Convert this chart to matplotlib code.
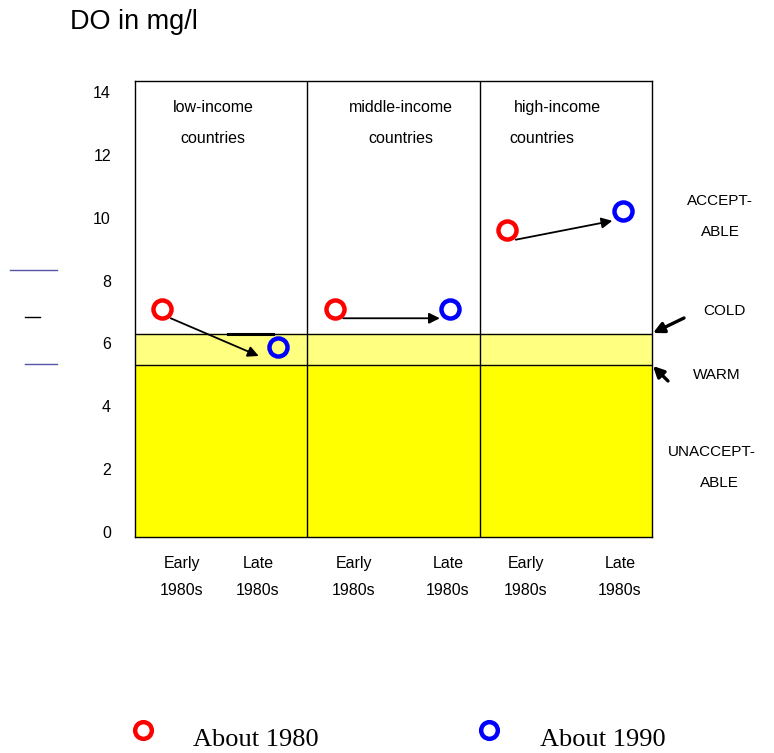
import numpy as np
import matplotlib.pyplot as plt
from matplotlib.lines import Line2D
from matplotlib.patches import FancyArrowPatch

# data
groups = ['low-income', 'middle-income', 'high-income']
do_1980 = [7.1, 7.1, 9.6]
do_1990 = [5.9, 7.1, 10.2]
period_labels = ['Early\n1980s', 'Late\n1980s']
warm_limit = 5.3
cold_limit = 6.3

plt.rcParams['font.family'] = ['Liberation Sans', 'DejaVu Sans']

fig = plt.figure(figsize=(7.74, 7.53), dpi=100)
W, H = 774, 753
ax = fig.add_axes([134.5 / W, 1 - 537 / H, (652 - 134.5) / W, (537 - 81) / H])

ax.set_xlim(0, 3)
ax.set_ylim(-0.16, 14.35)

# background bands
ax.axhspan(-0.16, warm_limit, color='#ffff00', zorder=0)
ax.axhspan(warm_limit, cold_limit, color='#ffff80', zorder=0)
ax.axhline(warm_limit, color='k', lw=1)
ax.axhline(cold_limit, color='k', lw=1)
for xd in [1, 2]:
    ax.axvline(xd, color='k', lw=1)
for s in ax.spines.values():
    s.set_linewidth(1)
    s.set_color('k')

# positions inside each panel
x_early = np.arange(3) + 0.16
x_late = np.arange(3) + 0.83

# arrows (drawn slightly below the points, like the original)
for i in range(3):
    xs, ys = x_early[i] + 0.05, do_1980[i] - 0.3
    xe, ye = x_late[i] - 0.06, do_1990[i] - 0.3
    if i == 0:
        xe -= 0.05
    ax.annotate('', xy=(xe, ye), xytext=(xs, ys),
                arrowprops=dict(arrowstyle='-|>', color='k', lw=1.3,
                                mutation_scale=16, shrinkA=0, shrinkB=0))

# small black dash at top of band in low-income panel
ax.plot([0.54, 0.80], [cold_limit, cold_limit], color='k', lw=2.2)

ax.plot(x_early, do_1980, 'o', mfc='none', mec='red', ms=13, mew=3.2, zorder=5)
ax.plot(x_late, do_1990, 'o', mfc='none', mec='blue', ms=13, mew=3.2, zorder=5)

# panel titles
title_x = [(213, 213), (401, 401), (557, 542)]
for g, (x1, x2) in zip(groups, title_x):
    fig.text(x1 / W, 1 - 112 / H, g, ha='center', va='baseline', fontsize=11.5)
    fig.text(x2 / W, 1 - 143 / H, 'countries', ha='center', va='baseline', fontsize=11.5)

# y ticks
ax.set_yticks(np.arange(0, 15, 2))
ax.tick_params(axis='y', length=0, pad=17, labelsize=11.5)
ax.set_xticks([])

# x labels
lab_x = [182, 258, 354, 448, 526, 620]
for k, xp in enumerate(lab_x):
    txt = period_labels[k % 2].split('\n')
    fig.text(xp / W, 1 - 568 / H, txt[0], ha='center', va='baseline', fontsize=11.5)
    fig.text(xp / W, 1 - 595 / H, txt[1], ha='center', va='baseline', fontsize=11.5)

# axis title
fig.text(70 / W, 1 - 22 / H, 'DO in mg/l', ha='left', va='center', fontsize=19.5)

# right-hand labels
fig.text(720 / W, 1 - 201 / H, 'ACCEPT-', ha='center', va='center', fontsize=11)
fig.text(720 / W, 1 - 232 / H, 'ABLE', ha='center', va='center', fontsize=11)
fig.text(724 / W, 1 - 311 / H, 'COLD', ha='center', va='center', fontsize=11)
fig.text(717 / W, 1 - 375 / H, 'WARM', ha='center', va='center', fontsize=11)
fig.text(712 / W, 1 - 452 / H, 'UNACCEPT-', ha='center', va='center', fontsize=11)
fig.text(719 / W, 1 - 483 / H, 'ABLE', ha='center', va='center', fontsize=11)

fig.add_artist(FancyArrowPatch(
    (684 / W, 1 - 318 / H), (653 / W, 1 - 333 / H), transform=fig.transFigure,
    arrowstyle='-|>', mutation_scale=16, lw=2.4, color='k', shrinkA=0, shrinkB=0))
fig.add_artist(FancyArrowPatch(
    (668 / W, 1 - 381 / H), (653 / W, 1 - 366 / H), transform=fig.transFigure,
    arrowstyle='-|>', mutation_scale=16, lw=2.4, color='k', shrinkA=0, shrinkB=0))

# stray lines on the left
fig.add_artist(Line2D([10 / W, 57 / W], [1 - 270 / H] * 2, color='#5555aa', lw=1))
fig.add_artist(Line2D([25 / W, 40 / W], [1 - 317 / H] * 2, color='k', lw=1))
fig.add_artist(Line2D([25 / W, 57 / W], [1 - 364 / H] * 2, color='#5555aa', lw=1))

# legend
fig.add_artist(Line2D([143 / W], [1 - 730 / H], marker='o', mfc='none', mec='red',
                      ms=12, mew=3.2))
fig.add_artist(Line2D([489 / W], [1 - 730 / H], marker='o', mfc='none', mec='blue',
                      ms=12, mew=3.2))
fig.text(193 / W, 1 - 740 / H, 'About 1980', ha='left', va='center', fontsize=19,
         family='Liberation Serif')
fig.text(540 / W, 1 - 740 / H, 'About 1990', ha='left', va='center', fontsize=19,
         family='Liberation Serif')

fig.savefig('out.png', dpi=100)
